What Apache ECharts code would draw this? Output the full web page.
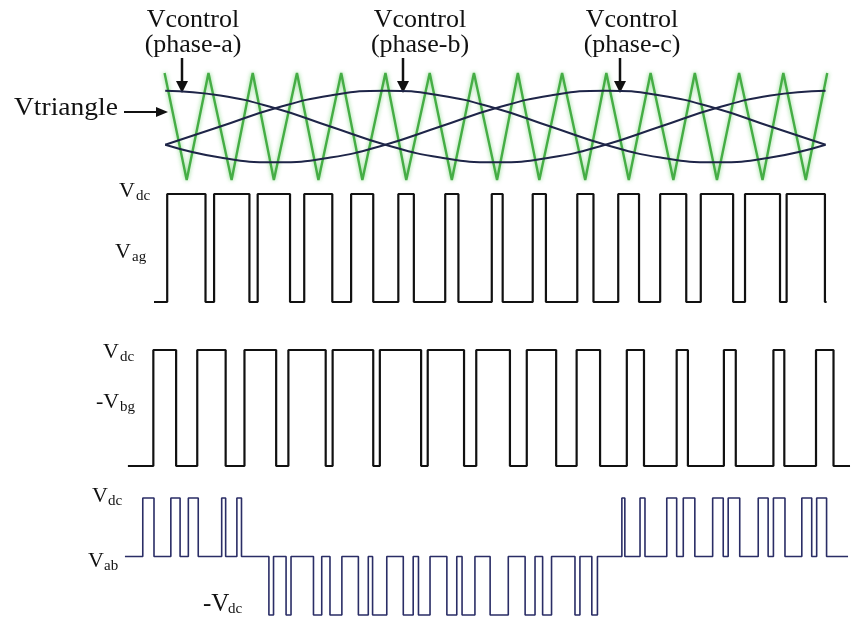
<!DOCTYPE html>
<html>
<head>
<meta charset="utf-8">
<script src="https://cdn.jsdelivr.net/npm/echarts@6/dist/echarts.min.js"></script>
<style>html,body{margin:0;padding:0;background:#fff}#main{width:857px;height:620px}</style>
</head>
<body>
<div id="main"></div>
<script>
// time axis in ms, one fundamental period = 20 ms
// carrier triangle corners (peak / valley)
var triTimes = [-0.02,0.65,1.31,2.01,2.65,3.29,3.99,4.64,5.33,5.97,6.67,7.30,8.01,8.68,9.35,10.05,10.68,11.33,12.02,12.72,13.36,14.04,14.70,15.39,16.04,16.71,17.38,18.09,18.72,19.40,20.05];
var triValues = [1,-1,1,-1,1,-1,1,-1,1,-1,1,-1,1,-1,1,-1,1,-1,1,-1,1,-1,1,-1,1,-1,1,-1,1,-1,1];

// control signals read every 1/12 period
var ctrlTimes = [0,1.667,3.333,5,6.667,8.333,10,11.667,13.333,15,16.667,18.333,20];
var ctrlA = [0.67,0.58,0.34,0,-0.34,-0.58,-0.67,-0.58,-0.34,0,0.34,0.58,0.67];
var ctrlB = [-0.34,0,0.34,0.58,0.67,0.58,0.34,0,-0.34,-0.58,-0.67,-0.58,-0.34];
var ctrlC = [-0.34,-0.58,-0.67,-0.58,-0.34,0,0.34,0.58,0.67,0.58,0.34,0,-0.34];

// Vag pulses [on, off]
var agBase = [-0.34, 20.03];
var agPulses = [[0.06,1.22],[1.48,2.55],[2.80,3.78],[4.21,5.06],[5.63,6.30],[7.06,7.53],[8.48,8.88],[9.89,10.22],[11.13,11.53],[12.48,12.97],[13.72,14.35],[14.99,15.78],[16.22,17.20],[17.56,18.62],[18.82,19.98]];

// Vbg pulses
var bgBase = [-1.13, 20.74];
var bgPulses = [[-0.36,0.33],[0.97,1.83],[2.40,3.36],[3.73,4.86],[5.07,6.30],[6.50,7.75],[7.95,9.05],[9.42,10.44],[10.95,11.84],[12.46,13.17],[13.98,14.50],[15.49,15.83],[16.92,17.28],[18.42,18.75],[19.71,20.24]];

// Vab pulses and their sign
var abBase = [-1.22, 20.68];
var abPulses = [[-0.68,-0.34],[0.17,0.45],[0.70,1.00],[1.71,1.83],[2.17,2.31],
  [3.14,3.28],[3.66,3.81],[4.49,4.74],[4.99,5.35],[5.85,6.15],[6.28,6.71],[7.21,7.51],[7.67,8.02],[8.53,8.83],[8.99,9.38],[9.84,10.39],[10.90,11.20],[11.43,11.70],[12.41,12.56],[12.92,13.09],
  [13.83,13.92],[14.38,14.53],[15.19,15.49],[15.69,16.04],[16.58,16.90],[17.05,17.40],[17.96,18.26],[18.42,18.77],[19.28,19.58],[19.73,20.03]];
var abLevels = [1,1,1,1,1,-1,-1,-1,-1,-1,-1,-1,-1,-1,-1,-1,-1,-1,-1,-1,1,1,1,1,1,1,1,1,1,1];

function zip(xs, ys){
  var d=[];
  for(var i=0;i<xs.length;i++){ d.push([xs[i], ys[i]]) }
  return d
}
function steps(base, pulses, levels){
  var d=[[base[0],0]];
  for(var i=0;i<pulses.length;i++){
    var h = levels ? levels[i] : 1;
    d.push([pulses[i][0],0],[pulses[i][0],h],[pulses[i][1],h],[pulses[i][1],0]);
  }
  d.push([base[1],0]);
  return d
}

var serif = '"Liberation Serif", "DejaVu Serif", serif';
var ink = '#111';
var navy = '#1e2548';

function sublabel(x, y, main, sub, subX, size){
  size = size || 22;
  return [
    {type:'text', x:x, y:y, style:{text:main, font:size+'px '+serif, fill:ink, verticalAlign:'middle'}},
    {type:'text', x:subX, y:y+5, style:{text:sub, font:'15px '+serif, fill:ink, verticalAlign:'middle'}}
  ]
}
function downArrow(x){
  return [
    {type:'line', shape:{x1:x,y1:58,x2:x,y2:84}, style:{stroke:ink, lineWidth:2.5}},
    {type:'polygon', shape:{points:[[x-6,81],[x+6,81],[x,93]]}, style:{fill:ink}}
  ]
}
function topLabel(cx, line2){
  return [
    {type:'text', x:cx, y:20, style:{text:'Vcontrol', font:'26px '+serif, fill:ink, align:'center', verticalAlign:'middle'}},
    {type:'text', x:cx, y:45, style:{text:line2, font:'26px '+serif, fill:ink, align:'center', verticalAlign:'middle'}}
  ]
}

var graphics = [].concat(
  topLabel(193,'(phase-a)'), topLabel(420,'(phase-b)'), topLabel(632,'(phase-c)'),
  downArrow(182), downArrow(403), downArrow(620),
  [
    {type:'text', x:14, y:108, scaleX:1.1, style:{text:'Vtriangle', font:'25px '+serif, fill:ink, verticalAlign:'middle'}},
    {type:'line', shape:{x1:124,y1:112,x2:158,y2:112}, style:{stroke:ink, lineWidth:2}},
    {type:'polygon', shape:{points:[[156,107],[156,117],[168,112]]}, style:{fill:ink}}
  ],
  sublabel(119,191,'V','dc',136),
  sublabel(115,252,'V','ag',132),
  sublabel(103,352,'V','dc',120),
  sublabel(96,402,'-V','bg',120),
  sublabel(92,496,'V','dc',108),
  sublabel(88,561,'V','ab',104),
  sublabel(203,604,'-V','dc',228,25)
);

var xMin=-1.4, xMax=20.8;
var grids = [
  {left:119, right:5, top:73, height:107},
  {left:119, right:5, top:194, height:108},
  {left:119, right:5, top:350, height:116},
  {left:119, right:5, top:498, height:117}
];
var xAxes=[], yAxes=[];
var yRange = [[-1,1],[0,1],[0,1],[-1,1]];
for(var g=0; g<4; g++){
  xAxes.push({type:'value', gridIndex:g, min:xMin, max:xMax, show:false});
  yAxes.push({type:'value', gridIndex:g, min:yRange[g][0], max:yRange[g][1], show:false});
}

function lineSeries(idx, data, color, width, smooth){
  return {type:'line', xAxisIndex:idx, yAxisIndex:idx, data:data, showSymbol:false, smooth:smooth||false,
    clip:false, lineStyle:{color:color, width:width}, silent:true}
}

var triangle = lineSeries(0, zip(triTimes, triValues), '#45ad45', 2.4);
triangle.lineStyle.shadowColor = 'rgba(120,210,120,0.9)';
triangle.lineStyle.shadowBlur = 4;

var myChart = echarts.init(document.getElementById('main'));
myChart.setOption({
  animation:false,
  backgroundColor:'#fff',
  grid:grids,
  xAxis:xAxes,
  yAxis:yAxes,
  graphic:graphics,
  series:[
    triangle,
    lineSeries(0, zip(ctrlTimes, ctrlA), navy, 2, true),
    lineSeries(0, zip(ctrlTimes, ctrlB), navy, 2, true),
    lineSeries(0, zip(ctrlTimes, ctrlC), navy, 2, true),
    lineSeries(1, steps(agBase, agPulses), ink, 2.2),
    lineSeries(2, steps(bgBase, bgPulses), ink, 2.2),
    lineSeries(3, steps(abBase, abPulses, abLevels), '#2a2d66', 1.6)
  ]
});
</script>
</body>
</html>
